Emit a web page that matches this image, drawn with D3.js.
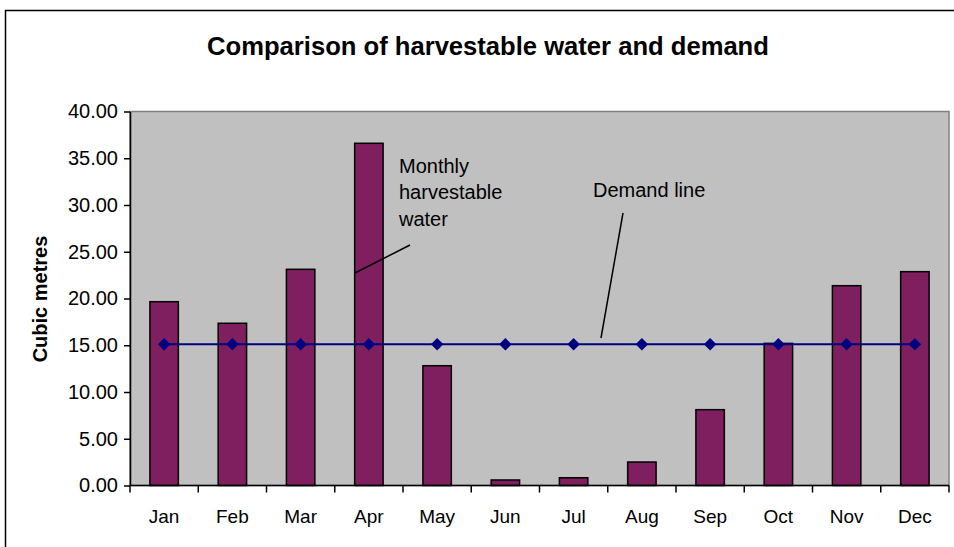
<!DOCTYPE html>
<html>
<head>
<meta charset="utf-8">
<script src="https://cdn.jsdelivr.net/npm/d3@7"></script>
<style>
    body { margin: 0; background: #fff; }
    text { font-family: "Liberation Sans", Arial, sans-serif; fill: #000; }
</style>
</head>
<body>
<div id="chart"></div>
<script>
// months and series
const months = ["Jan", "Feb", "Mar", "Apr", "May", "Jun", "Jul", "Aug", "Sep", "Oct", "Nov", "Dec"];
const harvestable = [19.66, 17.35, 23.12, 36.6, 12.81, 0.59, 0.83, 2.51, 8.11, 15.2, 21.37, 22.87];
const demand = [15.1, 15.1, 15.1, 15.1, 15.1, 15.1, 15.1, 15.1, 15.1, 15.1, 15.1, 15.1];
const yTicks = [0, 5, 10, 15, 20, 25, 30, 35, 40];

const W = 954, H = 547;
const margin = {top: 111.5, right: 5, bottom: 61.5, left: 130};
const width = W - margin.left - margin.right;
const height = H - margin.top - margin.bottom;

const svg = d3.select("#chart").append("svg")
    .attr("width", W)
    .attr("height", H);

// outer chart border
svg.append("rect")
    .attr("x", 5.5).attr("y", 10.5)
    .attr("width", W + 10).attr("height", H + 10)
    .attr("fill", "none")
    .attr("stroke", "#000")
    .attr("stroke-width", 1.5);

svg.append("text")
    .attr("x", 488).attr("y", 55)
    .attr("text-anchor", "middle")
    .style("font-size", "25.6px")
    .style("font-weight", "bold")
    .text("Comparison of harvestable water and demand");

const g = svg.append("g")
    .attr("transform", `translate(${margin.left},${margin.top})`);

const x = d3.scaleBand()
    .domain(months)
    .range([0, width]);

const y = d3.scaleLinear()
    .domain([0, 40])
    .range([height, 0]);

// plot area
g.append("rect")
    .attr("width", width).attr("height", height)
    .attr("fill", "#c0c0c0")
    .attr("stroke", "#808080")
    .attr("stroke-width", 1.5);

// bars, gap width 140%
const barW = x.bandwidth() / 2.4;
g.selectAll(".bar")
    .data(harvestable)
    .join("rect")
    .attr("class", "bar")
    .attr("x", (d, i) => x(months[i]) + (x.bandwidth() - barW) / 2)
    .attr("y", d => y(d))
    .attr("width", barW)
    .attr("height", d => y(0) - y(d))
    .attr("fill", "#801f5f")
    .attr("stroke", "#000")
    .attr("stroke-width", 1.5);

// demand line
const line = d3.line()
    .x((d, i) => x(months[i]) + x.bandwidth() / 2)
    .y(d => y(d));

g.append("path")
    .datum(demand)
    .attr("d", line)
    .attr("fill", "none")
    .attr("stroke", "#000080")
    .attr("stroke-width", 2);

g.selectAll(".marker")
    .data(demand)
    .join("path")
    .attr("class", "marker")
    .attr("transform", (d, i) => `translate(${x(months[i]) + x.bandwidth() / 2},${y(d)})`)
    .attr("d", d3.symbol().type(d3.symbolDiamond2).size(100))
    .attr("fill", "#000080");

// y axis
const yAxis = g.append("g")
    .call(d3.axisLeft(y).tickValues(yTicks).tickFormat(d3.format(".2f")).tickSize(6).tickSizeOuter(0));
yAxis.select(".domain").attr("stroke", "#000").attr("stroke-width", 1.5);
yAxis.selectAll(".tick line").attr("stroke", "#000").attr("stroke-width", 1.5);
yAxis.selectAll(".tick text")
    .attr("x", -12)
    .style("font-size", "20px")
    .style("font-family", "Liberation Sans, Arial, sans-serif")
    .attr("fill", "#000");

// x axis: ticks between categories
const xAxisG = g.append("g")
    .attr("transform", `translate(0,${height})`);
xAxisG.append("line")
    .attr("x1", 0).attr("x2", width)
    .attr("stroke", "#000").attr("stroke-width", 1.5);
xAxisG.selectAll(".xtick")
    .data(d3.range(months.length + 1))
    .join("line")
    .attr("class", "xtick")
    .attr("x1", i => i < months.length ? x(months[i]) : width)
    .attr("x2", i => i < months.length ? x(months[i]) : width)
    .attr("y1", 0).attr("y2", 7)
    .attr("stroke", "#000").attr("stroke-width", 1.5);
xAxisG.selectAll(".xlabel")
    .data(months)
    .join("text")
    .attr("class", "xlabel")
    .attr("x", d => x(d) + x.bandwidth() / 2)
    .attr("y", 37)
    .attr("text-anchor", "middle")
    .style("font-size", "19px")
    .text(d => d);

// y axis title
svg.append("text")
    .attr("transform", "translate(47,299) rotate(-90)")
    .attr("text-anchor", "middle")
    .style("font-size", "20px")
    .style("font-weight", "bold")
    .text("Cubic metres");

// annotations
const ann = svg.append("g").style("font-size", "20px");
ann.selectAll(".mh")
    .data(["Monthly", "harvestable", "water"])
    .join("text")
    .attr("x", 399)
    .attr("y", (d, i) => 172.5 + i * 26.5)
    .text(d => d);
ann.append("line")
    .attr("x1", 355).attr("y1", 273)
    .attr("x2", 410).attr("y2", 245)
    .attr("stroke", "#000").attr("stroke-width", 1.5);

ann.append("text")
    .attr("x", 593).attr("y", 197)
    .text("Demand line");
ann.append("line")
    .attr("x1", 623).attr("y1", 213)
    .attr("x2", 601).attr("y2", 338)
    .attr("stroke", "#000").attr("stroke-width", 1.5);
</script>
</body>
</html>
